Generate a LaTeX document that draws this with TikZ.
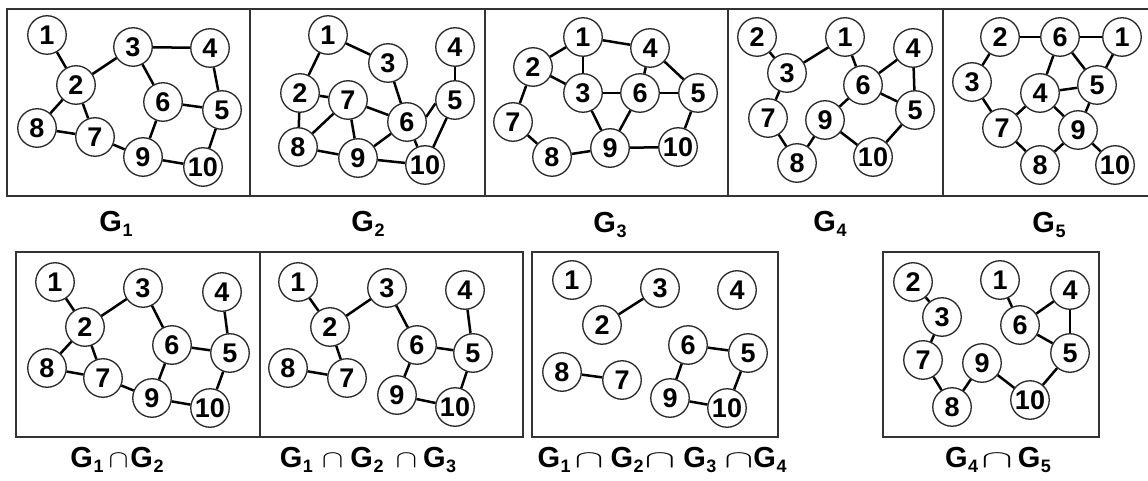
\documentclass[tikz,border=0pt]{standalone}
\usepackage{fontspec}
\usepackage{graphicx}
\setmainfont{Liberation Sans}
\tikzset{
  v/.style={circle, draw=black!85, line width=1.3pt, fill=white, minimum size=38.5pt, inner sep=0pt,
    font=\fontsize{27}{27}\selectfont\bfseries},
  e/.style={line width=2.5pt, black},
  frame/.style={draw=black!80, line width=1.3pt},
  lab/.style={font=\fontsize{29}{29}\selectfont\bfseries, inner sep=0pt, anchor=base}
}
\newcommand\Gs[1]{G\kern0.5pt\raisebox{-5pt}{\fontsize{18}{18}\selectfont #1}}
% #1 space before, #2 horizontal scale, #3 space after
\newcommand\capsym[3]{\hspace{#1}\scalebox{#2}[1]{\fontsize{32}{32}\selectfont\mdseries$\cap$}\hspace{#3}}
\begin{document}
\begin{tikzpicture}[x=1pt,y=-1pt]
\useasboundingbox (0,0) rectangle (1148,481);
% frames top
\draw[frame] (1150,9) -- (7,9) -- (7,196) -- (1150,196);
\foreach \xx in {250,485,728,943} \draw[frame] (\xx,9) -- (\xx,196);
% frames bottom
\draw[frame] (16,252) rectangle (523,437);
\draw[frame] (260,252) -- (260,437);
\draw[frame] (532,252) rectangle (778,437);
\draw[frame] (883,252) rectangle (1099,437);

% G1
\foreach \n/\x/\y in {1/47/35,2/76/85,3/133/47,4/210/48,5/222/110,6/163/102,7/95/137,8/37/128,9/143/157,10/203/167}
  \node[v] (a\n) at (\x,\y) {\n};
\foreach \u/\w in {1/2,2/3,3/4,3/6,4/5,6/5,2/8,2/7,8/7,7/9,6/9,9/10,5/10}
  \draw[e] (a\u) -- (a\w);

% G2
\foreach \n/\x/\y in {1/328/35,2/300/93,3/388/63,4/455/47,5/455/100,6/407/122,7/348/100,8/298/147,9/358/158,10/425/165}
  \node[v] (b\n) at (\x,\y) {\n};
\foreach \u/\w in {1/3,1/2,3/6,4/5,2/7,2/8,7/6,7/8,7/9,8/9,9/6,9/10,6/10,5/10}
  \draw[e] (b\u) -- (b\w);
\draw[e] (b5.190) -- (b6.15);

% G3
\foreach \n/\x/\y in {1/583/37,2/533/67,3/583/93,4/650/48,5/698/93,6/640/93,7/513/122,8/552/157,9/610/148,10/678/147}
  \node[v] (c\n) at (\x,\y) {\n};
\foreach \u/\w in {1/2,1/4,1/3,2/3,2/7,7/8,8/9,3/6,6/5,4/6,4/5,3/9,6/9,9/10,5/10}
  \draw[e] (c\u) -- (c\w);

% G4
\foreach \n/\x/\y in {1/845/37,2/757/37,3/787/73,4/913/48,5/915/110,6/863/85,7/768/118,8/797/163,9/825/120,10/873/157}
  \node[v] (d\n) at (\x,\y) {\n};
\foreach \u/\w in {2/3,3/1,1/6,6/4,4/5,6/5,3/7,6/9,9/10,5/10,7/8,8/9}
  \draw[e] (d\u) -- (d\w);

% G5
\foreach \n/\x/\y in {1/1122/37,2/1000/37,3/972/82,4/1040/93,5/1097/85,6/1060/37,7/1002/128,8/1040/165,9/1078/130,10/1115/165}
  \node[v] (f\n) at (\x,\y) {\n};
\foreach \u/\w in {2/6,6/1,2/3,6/4,6/5,1/5,4/5,3/7,4/7,4/9,5/9,7/8,8/9,9/10}
  \draw[e] (f\u) -- (f\w);

% G1 cap G2
\foreach \n/\x/\y in {1/55/282,2/85/327,3/143/288,4/222/292,5/230/353,6/172/345,7/103/378,8/47/368,9/152/398,10/210/408}
  \node[v] (g\n) at (\x,\y) {\n};
\foreach \u/\w in {1/2,2/3,3/6,4/5,6/5,2/8,2/7,8/7,7/9,6/9,9/10,5/10}
  \draw[e] (g\u) -- (g\w);

% G1 cap G2 cap G3
\foreach \n/\x/\y in {1/298/282,2/330/327,3/387/288,4/465/290,5/473/353,6/417/345,7/347/378,8/288/368,9/397/395,10/455/407}
  \node[v] (h\n) at (\x,\y) {\n};
\foreach \u/\w in {1/2,2/3,3/6,4/5,6/5,2/7,8/7,6/9,9/10,5/10}
  \draw[e] (h\u) -- (h\w);

% G1 cap G2 cap G3 cap G4
\foreach \n/\x/\y in {1/572/280,2/602/325,3/660/288,4/737/290,5/748/353,6/688/345,7/622/380,8/562/372,9/670/398,10/727/408}
  \node[v] (k\n) at (\x,\y) {\n};
\foreach \u/\w in {2/3,8/7,6/5,6/9,9/10,5/10}
  \draw[e] (k\u) -- (k\w);

% G4 cap G5
\foreach \n/\x/\y in {1/1000/280,2/913/282,3/942/317,4/1070/290,5/1070/353,6/1020/325,7/923/360,8/952/407,9/982/363,10/1030/400}
  \node[v] (m\n) at (\x,\y) {\n};
\foreach \u/\w in {2/3,3/7,7/8,8/9,9/10,10/5,1/6,6/4,4/5,6/5}
  \draw[e] (m\u) -- (m\w);

% labels
\node[lab] (l1) at (116,232) {\Gs{1}};
\node[lab] (l2) at (368,232) {\Gs{2}};
\node[lab] (l3) at (610,233) {\Gs{3}};
\node[lab] (l4) at (830,232) {\Gs{4}};
\node[lab] (l5) at (1049,233) {\Gs{5}};
\node[lab] (l6) at (117,467) {\Gs{1}\capsym{5pt}{1.2}{2pt}\Gs{2}};
\node[lab] (l7) at (368,467) {\Gs{1}\capsym{9pt}{1.3}{7pt}\Gs{2}\capsym{12pt}{1.3}{6pt}\Gs{3}};
\node[lab] (l8) at (662,467) {\Gs{1}\capsym{4pt}{1.75}{7pt}\Gs{2}\capsym{1pt}{1.85}{8pt}\Gs{3}\capsym{8pt}{1.75}{0pt}\Gs{4}};
\node[lab] (l9) at (998,467) {\Gs{4}\capsym{3pt}{1.9}{5pt}\Gs{5}};
\end{tikzpicture}
\end{document}
